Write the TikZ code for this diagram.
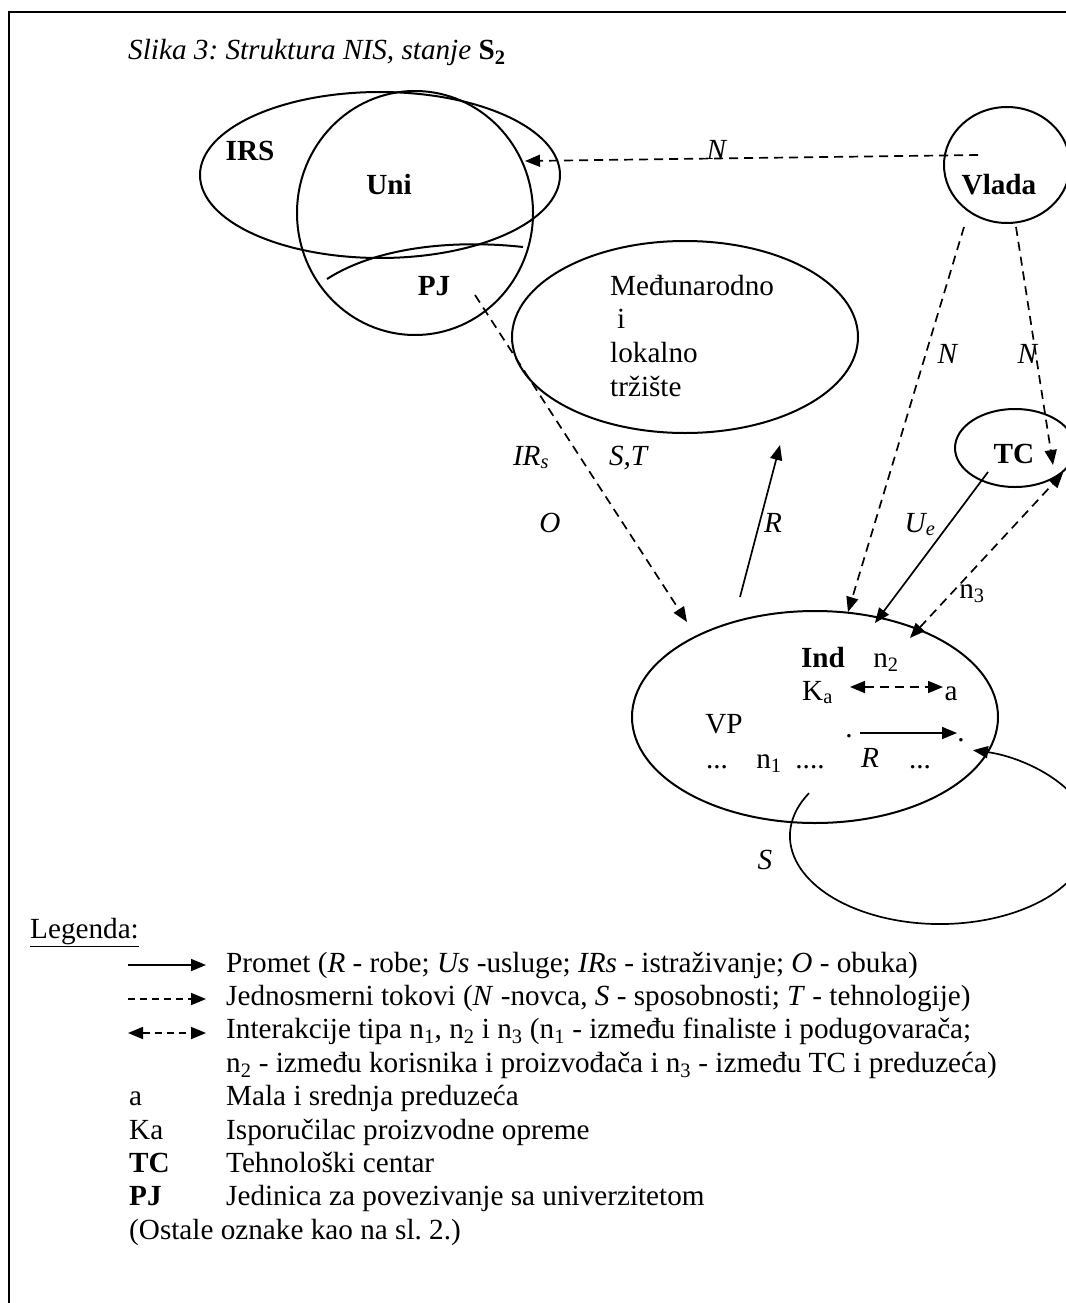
\documentclass[tikz,border=0pt]{standalone}
\usepackage{fontspec}
\setmainfont{Liberation Serif}
\usetikzlibrary{arrows.meta,shapes.geometric}
\frenchspacing

\begin{document}
\begin{tikzpicture}[x=1pt,y=-1pt,
  font=\fontsize{29.2}{33.4}\selectfont,
  oval/.style={draw, ellipse, line width=2pt, inner sep=0pt},
  lbl/.style={inner sep=0pt, anchor=base},
  tip/.style={-{Triangle[length=15pt,width=12pt]}},
  flow/.style={line width=1.7pt, tip},
  dflow/.style={flow, dash pattern=on 9pt off 6pt},
  twoway/.style={line width=1.7pt, dash pattern=on 9pt off 6pt,
    {Triangle[length=15pt,width=12pt]}-{Triangle[length=15pt,width=12pt]}},
  plain/.style={line width=2pt}]
\useasboundingbox (0,0) rectangle (1065,1303);

% frame
\draw[line width=2.5pt] (9,1320) -- (9,12) -- (1080,12);

% title
\node[lbl, anchor=base west] (title) at (128,60)
  {\textit{Slika 3: Struktura NIS, stanje }\textbf{S\textsubscript{2}}};

% ---------- ovals ----------
\node[oval, minimum width=360pt, minimum height=166pt] (irs) at (380,175) {};
\node[oval, minimum width=236pt, minimum height=244pt] (uni) at (415,213) {};
\node[oval, minimum width=346pt, minimum height=192pt] (mkt) at (685,337) {};
\node[oval, minimum width=126pt, minimum height=116pt] (vlada) at (1007,165) {};
\node[oval, minimum width=120pt, minimum height=78pt] (tc) at (1015,448) {};
\node[oval, minimum width=366pt, minimum height=212pt] (ind) at (815,717) {};

% PJ boundary arc
\coordinate (pj-a) at (327,279);
\coordinate (pj-b) at (523,247);
\draw[plain] (pj-a) .. controls (380,245) and (460,240) .. (pj-b);

% ---------- labels in the ovals ----------
\node[lbl] (irs-t) at (250,160) {\textbf{IRS}};
\node[lbl] (uni-t) at (389,194) {\textbf{Uni}};
\node[lbl] (pj-t) at (434,295) {\textbf{PJ}};
\node[lbl] (vlada-t) at (999,194) {\textbf{Vlada}};
\node[lbl] (tc-t) at (1014,463) {\textbf{TC}};

\node[lbl, anchor=base west] (mkt1) at (610,295) {Međunarodno};
\node[lbl, anchor=base west] (mkt2) at (617,328.8) {i};
\node[lbl, anchor=base west] (mkt3) at (610,362.6) {lokalno};
\node[lbl, anchor=base west] (mkt4) at (610,396.4) {tržište};

\node[lbl] (ind-t) at (823,667) {\textbf{Ind}};
\node[lbl] (n2) at (886,667) {n\textsubscript{2}};
\node[lbl, anchor=base west] (ka) at (802,700) {K\textsubscript{a}};
\node[lbl] (sme) at (951,700) {a};
\node[lbl] (vp) at (724,733) {VP};
\node[lbl] (dotl) at (849,737) {.};
\node[lbl] (dotr) at (961,741) {.};
\node[lbl] (dd1) at (717,768) {...};
\node[lbl] (n1) at (769,768) {n\textsubscript{1}};
\node[lbl] (dd2) at (810,768) {....};
\node[lbl] (rin) at (870,767) {\textit{R}};
\node[lbl] (dd3) at (920,768) {...};

% ---------- flow labels ----------
\node[lbl] (lN1) at (717,159) {\textit{N}};
\node[lbl] (lN2) at (948,363) {\textit{N}};
\node[lbl] (lN3) at (1028,363) {\textit{N}};
\node[lbl] (lIR) at (531,465) {\textit{IR\textsubscript{s}}};
\node[lbl] (lST) at (629,465) {\textit{S,T}};
\node[lbl] (lO) at (550,532) {\textit{O}};
\node[lbl] (lR) at (773,532) {\textit{R}};
\node[lbl] (lU) at (920,532) {\textit{U\textsubscript{e}}};
\node[lbl] (ln3) at (972,598) {n\textsubscript{3}};
\node[lbl] (lS) at (765,869) {\textit{S}};

% ---------- connector ends ----------
\coordinate (vlada-w) at (978,155);
\coordinate (uni-e) at (525,161);
\coordinate (pj-o) at (475,295);
\coordinate (ind-nw) at (687,622);
\coordinate (ind-r0) at (740,597);
\coordinate (mkt-s) at (780,445);
\coordinate (vlada-sw) at (964,227);
\coordinate (ind-n) at (848,612);
\coordinate (vlada-s) at (1016,227);
\coordinate (tc-in) at (1053,465);
\coordinate (tc-o) at (988,472);
\coordinate (ind-ne) at (875,623);
\coordinate (ind-n3) at (910,638);
\coordinate (tc-se) at (1063,473);
\coordinate (ka-e) at (850,687);
\coordinate (sme-w) at (943,687);
\coordinate (dotl-e) at (860,733);
\coordinate (dotr-w) at (957,733);
\coordinate (loop-s) at (809,793.1);

% ---------- connectors ----------
\draw[dflow] (vlada-w) -- (uni-e);
\draw[dflow] (pj-o) -- (ind-nw);
\draw[flow] (ind-r0) -- (mkt-s);
\draw[dflow] (vlada-sw) -- (ind-n);
\draw[dflow] (vlada-s) -- (tc-in);
\draw[flow] (tc-o) -- (ind-ne);
\draw[twoway] (ind-n3) -- (tc-se);
\draw[twoway] (ka-e) -- (sme-w);
\draw[flow] (dotl-e) -- (dotr-w);
\draw[flow] (loop-s) arc[start angle=209.2, end angle=-77.3, x radius=150, y radius=88];

% ---------- legend ----------
\node[lbl, anchor=base west] (leg) at (30,938) {\underline{Legenda:}};

\coordinate (k1a) at (128,965);  \coordinate (k1b) at (206,965);
\coordinate (k2a) at (128,999);  \coordinate (k2b) at (206,999);
\coordinate (k3a) at (128,1033); \coordinate (k3b) at (206,1033);
\draw[flow] (k1a) -- (k1b);
\draw[line width=1.7pt, dash pattern=on 7pt off 5pt, tip] (k2a) -- (k2b);
\draw[line width=1.7pt, dash pattern=on 7pt off 5pt,
  {Triangle[length=15pt,width=12pt]}-{Triangle[length=15pt,width=12pt]}] (k3a) -- (k3b);

\node[lbl, anchor=base west] (g1) at (226,972)
  {Promet (\textit{R} - robe; \textit{Us} -usluge; \textit{IRs} - istraživanje; \textit{O} - obuka)};
\node[lbl, anchor=base west] (g2) at (226,1005.4)
  {Jednosmerni tokovi (\textit{N} -novca, \textit{S} - sposobnosti; \textit{T} - tehnologije)};
\node[lbl, anchor=base west] (g3) at (226,1038.8)
  {Interakcije tipa n\textsubscript{1}, n\textsubscript{2} i n\textsubscript{3} (n\textsubscript{1}\ - između finaliste i podugovarača;};
\node[lbl, anchor=base west] (g4) at (226,1072.2)
  {n\textsubscript{2} - između korisnika i proizvođača i n\textsubscript{3}\ - između TC i preduzeća)};
\node[lbl, anchor=base west] (k5) at (129,1105.6) {a};
\node[lbl, anchor=base west] (g5) at (226,1105.6) {Mala i srednja preduzeća};
\node[lbl, anchor=base west] (k6) at (129,1139) {Ka};
\node[lbl, anchor=base west] (g6) at (226,1139) {Isporučilac proizvodne opreme};
\node[lbl, anchor=base west] (k7) at (129,1172.4) {\textbf{TC}};
\node[lbl, anchor=base west] (g7) at (226,1172.4) {Tehnološki centar};
\node[lbl, anchor=base west] (k8) at (129,1205.8) {\textbf{PJ}};
\node[lbl, anchor=base west] (g8) at (226,1205.8) {Jedinica za povezivanje sa univerzitetom};
\node[lbl, anchor=base west] (g9) at (129,1239.2) {(Ostale oznake kao na sl. 2.)};
\end{tikzpicture}
\end{document}
